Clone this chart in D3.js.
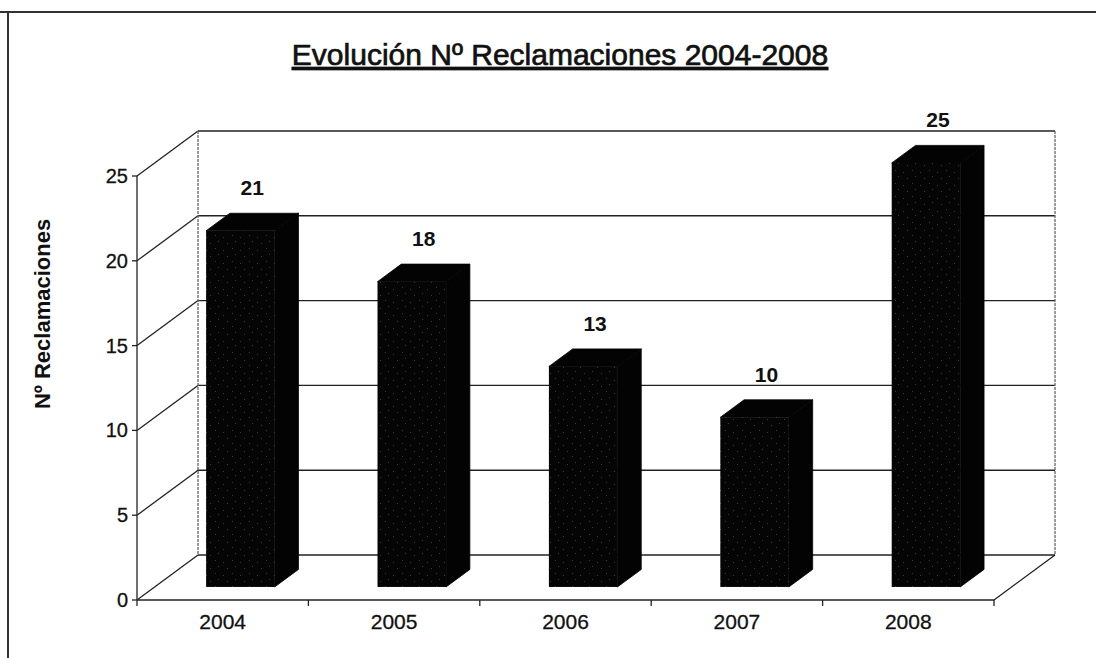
<!DOCTYPE html>
<html>
<head>
<meta charset="utf-8">
<script src="https://cdn.jsdelivr.net/npm/d3@7"></script>
<style>
  body { margin: 0; background: #fff; }
  text { font-family: Arial, "Liberation Sans", sans-serif; fill: #111; }
</style>
</head>
<body>
<div id="chart"></div>
<script>
// data
const years = ["2004", "2005", "2006", "2007", "2008"];
const reclamaciones = [21, 18, 13, 10, 25];
const yTicks = [0, 5, 10, 15, 20, 25];
const title = "Evolución Nº Reclamaciones 2004-2008";
const yTitle = "Nº Reclamaciones";

const width = 1096, height = 658;

// front plane of the 3d box
const x0 = 137, x1 = 994, yBase = 600, yTop = 176;
// depth of the box (back wall offset)
const depthX = 61, depthY = -45;
// bar sits between these depth fractions
const barFront = 0.29, barBack = 0.68;

const svg = d3.select("#chart").append("svg")
    .attr("width", width)
    .attr("height", height);

// speckled fill for bar fronts
const defs = svg.append("defs");
const pat = defs.append("pattern")
    .attr("id", "speckle")
    .attr("patternUnits", "userSpaceOnUse")
    .attr("width", 17).attr("height", 13);
pat.append("rect").attr("width", 17).attr("height", 13).attr("fill", "#050505");
[[2, 3], [11, 1], [6, 9], [14, 7]].forEach(p =>
    pat.append("rect").attr("x", p[0]).attr("y", p[1])
        .attr("width", 1).attr("height", 1).attr("fill", "#3a3a3a"));

// outer frame (top and left edge of the scanned chart)
svg.append("line").attr("x1", 0).attr("x2", width).attr("y1", 12).attr("y2", 12)
    .attr("stroke", "#333").attr("stroke-width", 2);
svg.append("line").attr("x1", 8).attr("x2", 8).attr("y1", 12).attr("y2", height)
    .attr("stroke", "#333").attr("stroke-width", 2);

// scales
const x = d3.scaleBand()
    .domain(years)
    .range([x0, x1])
    .paddingInner(0.6)
    .paddingOuter(0.3);

const y = d3.scaleLinear()
    .domain([0, 25])
    .range([yBase, yTop]);

// title
svg.append("text")
    .attr("x", 560)
    .attr("y", 65)
    .attr("text-anchor", "middle")
    .attr("font-size", "30px")
    .attr("stroke", "#111")
    .attr("stroke-width", 0.7)
    .attr("text-decoration", "underline")
    .text(title);

// y axis title
svg.append("text")
    .attr("transform", "translate(50,314) rotate(-90)")
    .attr("text-anchor", "middle")
    .attr("font-size", "22px")
    .attr("font-weight", "bold")
    .text(yTitle);

// walls: gridlines on back wall and left wall
const grid = svg.append("g").attr("class", "grid");
yTicks.forEach(t => {
    grid.append("line")
        .attr("x1", x0 + depthX).attr("x2", x1 + depthX)
        .attr("y1", y(t) + depthY).attr("y2", y(t) + depthY)
        .attr("stroke", "#222").attr("stroke-width", 1.4);
    grid.append("line")
        .attr("x1", x0).attr("x2", x0 + depthX)
        .attr("y1", y(t)).attr("y2", y(t) + depthY)
        .attr("stroke", "#222").attr("stroke-width", 1.3);
});

// back wall vertical edges
[x0 + depthX, x1 + depthX].forEach(xx =>
    grid.append("line")
        .attr("x1", xx).attr("x2", xx)
        .attr("y1", y(25) + depthY).attr("y2", y(0) + depthY)
        .attr("stroke", "#666").attr("stroke-width", 1.3)
        .attr("stroke-dasharray", "3,1"));

// floor right edge
grid.append("line")
    .attr("x1", x1).attr("x2", x1 + depthX)
    .attr("y1", y(0)).attr("y2", y(0) + depthY)
    .attr("stroke", "#222").attr("stroke-width", 1.3);

// y axis (front)
const yAxis = svg.append("g");
yAxis.append("line")
    .attr("x1", x0).attr("x2", x0)
    .attr("y1", y(25)).attr("y2", y(0))
    .attr("stroke", "#222").attr("stroke-width", 1.3);
yTicks.forEach(t => {
    yAxis.append("line")
        .attr("x1", x0 - 5).attr("x2", x0)
        .attr("y1", y(t)).attr("y2", y(t))
        .attr("stroke", "#222").attr("stroke-width", 1.3);
    yAxis.append("text")
        .attr("x", x0 - 9)
        .attr("y", y(t) + 7)
        .attr("text-anchor", "end")
        .attr("font-size", "20px")
        .attr("stroke", "#111").attr("stroke-width", 0.3)
        .text(t);
});

// x axis (front floor edge)
const xAxis = svg.append("g");
xAxis.append("line")
    .attr("x1", x0).attr("x2", x1)
    .attr("y1", y(0)).attr("y2", y(0))
    .attr("stroke", "#222").attr("stroke-width", 1.5);
d3.range(years.length + 1).forEach(i => {
    const xx = x0 + i * x.step();
    xAxis.append("line")
        .attr("x1", xx).attr("x2", xx)
        .attr("y1", y(0)).attr("y2", y(0) + 6)
        .attr("stroke", "#222").attr("stroke-width", 1.3);
});
years.forEach(d => {
    xAxis.append("text")
        .attr("x", x(d) + x.bandwidth() / 2)
        .attr("y", y(0) + 29)
        .attr("text-anchor", "middle")
        .attr("font-size", "21px")
        .attr("stroke", "#111").attr("stroke-width", 0.3)
        .text(d);
});

// bars
const fx = depthX * barFront, fy = depthY * barFront;
const bx = depthX * barBack, by = depthY * barBack;

const bars = svg.append("g").selectAll("g")
    .data(years.map((d, i) => ({year: d, value: reclamaciones[i]})))
    .join("g");

bars.each(function(d) {
    const g = d3.select(this);
    const xl = x(d.year), xr = x(d.year) + x.bandwidth();
    const yt = y(d.value), yb = y(0);

    // top face
    g.append("polygon")
        .attr("points", [[xl + fx, yt + fy], [xl + bx, yt + by], [xr + bx, yt + by], [xr + fx, yt + fy]].join(" "))
        .attr("fill", "#030303")
        .attr("stroke", "#030303").attr("stroke-width", 0.8);
    // side face
    g.append("polygon")
        .attr("points", [[xr + fx, yt + fy], [xr + bx, yt + by], [xr + bx, yb + by], [xr + fx, yb + fy]].join(" "))
        .attr("fill", "#030303")
        .attr("stroke", "#030303").attr("stroke-width", 0.8);
    // front face
    g.append("rect")
        .attr("x", xl + fx)
        .attr("y", yt + fy)
        .attr("width", xr - xl)
        .attr("height", yb - yt)
        .attr("fill", "url(#speckle)");

    // value label
    g.append("text")
        .attr("x", (xl + xr) / 2 + (fx + bx) / 2)
        .attr("y", yt + by - 18)
        .attr("text-anchor", "middle")
        .attr("font-size", "21px")
        .attr("font-weight", "bold")
        .text(d.value);
});
</script>
</body>
</html>
